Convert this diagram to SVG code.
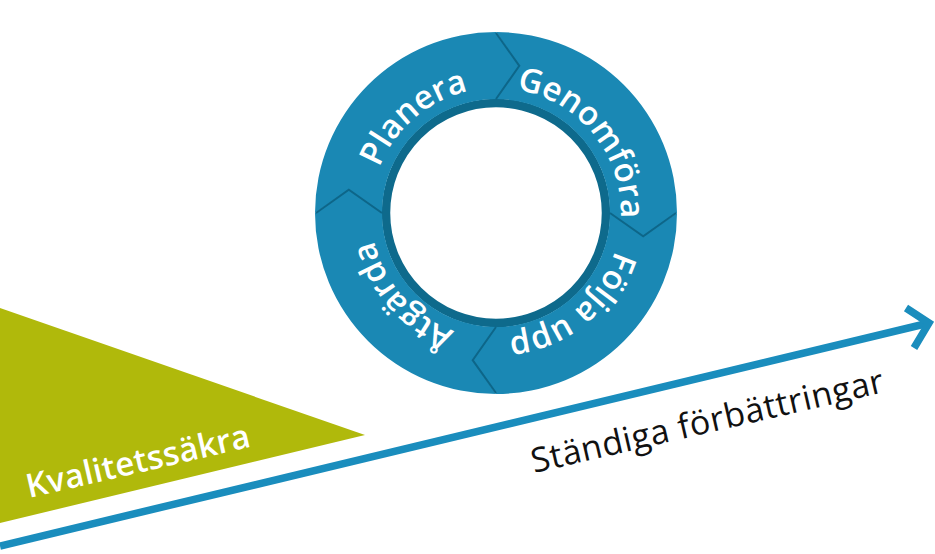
<svg xmlns="http://www.w3.org/2000/svg" width="935" height="554" viewBox="0 0 935 554">
<style>
.seg{fill:#1a88b4}
.chev{fill:none;stroke:#0d6689;stroke-width:2;stroke-linejoin:miter}
.rt{font-family:"Open Sans","Liberation Sans",sans-serif;font-weight:600;font-size:33px;fill:#ffffff}
.lbl{font-family:"Open Sans","Liberation Sans",sans-serif}
</style>
<defs>
<path id="circ" d="M496,88 A125,125 0 1 1 495.99,88 Z"/>
</defs>
<rect width="935" height="554" fill="#ffffff"/>
<g id="kvalitetssakra">
<polygon points="0,308 365,435 0,523" fill="#b0b90b"/>
<text class="lbl" transform="translate(29,498) rotate(-13)" font-size="33" font-weight="600" letter-spacing="0.3" fill="#ffffff">Kvalitetssäkra</text>
</g>
<g id="ring">
<circle cx="496" cy="213" r="110" fill="none" stroke="#0e6a8c" stroke-width="8.5"/>
</g>
<g id="planera">
<path class="seg" d="M315,213 A181,181 0 0 1 496,32 L519.3,65.8 L496,99 A114,114 0 0 0 382,213 L348.8,189.7 Z"/>
<text class="rt"><textPath href="#circ" startOffset="696" text-anchor="middle">Planera</textPath></text>
</g>
<g id="genomfora">
<path class="seg" d="M496,32 A181,181 0 0 1 677,213 L643.2,236.3 L610,213 A114,114 0 0 0 496,99 L519.3,65.8 Z"/>
<text class="rt"><textPath href="#circ" startOffset="111" text-anchor="middle">Genomföra</textPath></text>
</g>
<g id="folja-upp">
<path class="seg" d="M677,213 A181,181 0 0 1 496,394 L472.7,360.2 L496,327 A114,114 0 0 0 610,213 L643.2,236.3 Z"/>
<text class="rt"><textPath href="#circ" startOffset="307" text-anchor="middle">Följa upp</textPath></text>
</g>
<g id="atgarda">
<path class="seg" d="M496,394 A181,181 0 0 1 315,213 L348.8,189.7 L382,213 A114,114 0 0 0 496,327 L472.7,360.2 Z"/>
<text class="rt"><textPath href="#circ" startOffset="498" text-anchor="middle">Åtgärda</textPath></text>
</g>
<g id="chevrons">
<polyline class="chev" points="496,33 519.3,65.8 496,99"/>
<polyline class="chev" points="676,213 643.2,236.3 610,213"/>
<polyline class="chev" points="496,393 472.7,360.2 496,327"/>
<polyline class="chev" points="316,213 348.8,189.7 382,213"/>
</g>
<g id="connectors">
<path d="M0,546 L929,323" fill="none" stroke="#1a8dbd" stroke-width="7.5"/>
<polyline points="906,308 929,323 914,348" fill="none" stroke="#1a8dbd" stroke-width="7.5" stroke-linejoin="miter"/>
</g>
<g id="standiga">
<text class="lbl" transform="translate(534,473) rotate(-13)" font-size="34" letter-spacing="0.5" fill="#111111">Ständiga förbättringar</text>
</g>
</svg>
